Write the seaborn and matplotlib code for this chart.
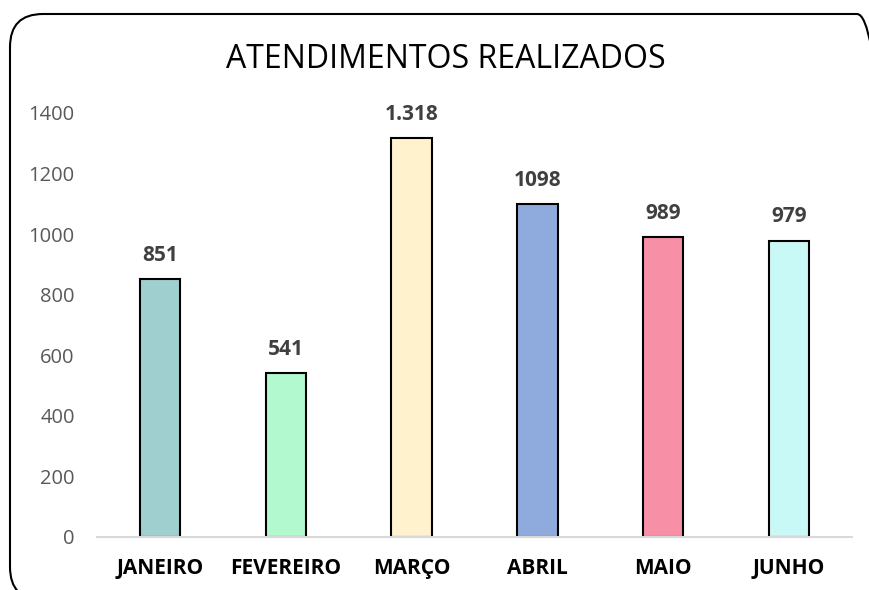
import pandas as pd
import matplotlib.pyplot as plt
import seaborn as sns
from matplotlib.patches import FancyBboxPatch

# dados
meses = ['JANEIRO', 'FEVEREIRO', 'MARÇO', 'ABRIL', 'MAIO', 'JUNHO']
atendimentos = [851, 541, 1318, 1098, 989, 979]
rotulos = ['851', '541', '1.318', '1098', '989', '979']
cores = ['#A0CFCF', '#B3F9D0', '#FFF2CC', '#8FAADC', '#F78FA7', '#C9F9F7']

df = pd.DataFrame({'Mes': meses, 'Qtd': atendimentos})

sns.set_theme(style="white")
plt.rcParams['font.family'] = ['Open Sans', 'DejaVu Sans']

fig = plt.figure(figsize=(8.7, 5.9), dpi=100)
ax = fig.add_axes([97 / 870, 1 - 537 / 590, (852 - 97) / 870, (537 - 113) / 590])

sns.barplot(data=df, x='Mes', y='Qtd', hue='Mes', palette=cores, legend=False,
            width=0.32, saturation=1, edgecolor='black', linewidth=1.5, ax=ax)

# rótulos de dados
for i, (v, r) in enumerate(zip(atendimentos, rotulos)):
    ax.annotate(r, (i, v), xytext=(0, 13), textcoords='offset points',
                ha='center', va='baseline', fontsize=15, fontweight='bold',
                color='#404040', annotation_clip=False)

ax.set_ylim(0, 1400)
ax.set_yticks(range(0, 1401, 200))
ax.set_xlim(-0.5, 5.5)
ax.set_xlabel('')
ax.set_ylabel('')
for s in ['top', 'right', 'left']:
    ax.spines[s].set_visible(False)
ax.spines['bottom'].set_color('#D9D9D9')
ax.spines['bottom'].set_linewidth(1.5)
ax.tick_params(axis='y', length=0, pad=16, labelsize=14.5, labelcolor='#595959')
ax.tick_params(axis='x', length=0, pad=15, labelsize=15)
for t in ax.get_xticklabels():
    t.set_fontweight('bold')
    t.set_color('black')

fig.text(446 / 870, 1 - 60 / 590, 'ATENDIMENTOS REALIZADOS', ha='center', va='center',
         fontsize=23, color='black')

# moldura arredondada (em polegadas)
moldura = FancyBboxPatch((0.10, -0.10), 8.8, 5.86,
                         boxstyle='round,pad=0,rounding_size=0.33',
                         transform=fig.dpi_scale_trans, fill=False, edgecolor='black',
                         linewidth=1.5)
fig.patches.append(moldura)

plt.savefig('out.png')
plt.close()
